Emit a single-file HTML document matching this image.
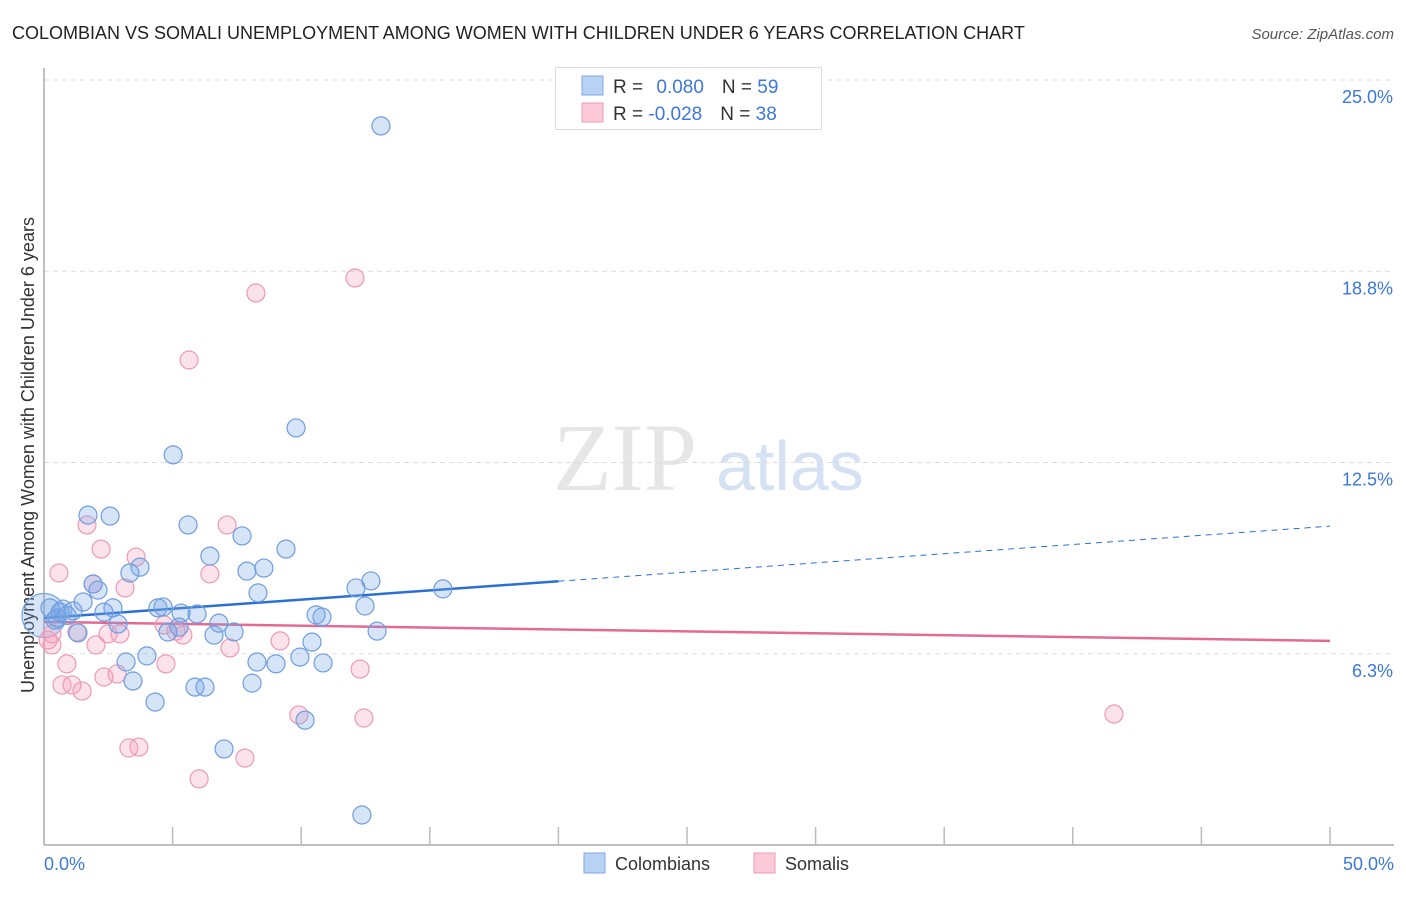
<!DOCTYPE html>
<html><head><meta charset="utf-8"><style>
body{margin:0;background:#fff;font-family:"Liberation Sans",sans-serif}
svg text{font-family:"Liberation Sans",sans-serif}
</style></head><body>
<svg id="chart" width="1406" height="892" viewBox="0 0 1406 892" xmlns="http://www.w3.org/2000/svg">
<text x="12" y="39" font-size="18" fill="#222">COLOMBIAN VS SOMALI UNEMPLOYMENT AMONG WOMEN WITH CHILDREN UNDER 6 YEARS CORRELATION CHART</text>
<text x="1394" y="39" font-size="15" fill="#555" font-style="italic" text-anchor="end">Source: ZipAtlas.com</text>
<g>
<text x="553" y="490" font-size="96" fill="#e6e6e6" font-family="Liberation Serif" style="font-family:'Liberation Serif',serif">ZIP</text>
<text x="716" y="490" font-size="70" fill="#d4e2f4">atlas</text>
</g>
<g id="grid"></g>
<g id="axes"></g>
<text transform="translate(34,455) rotate(-90)" font-size="18" fill="#333" text-anchor="middle">Unemployment Among Women with Children Under 6 years</text>
<g id="trends"></g>
<g id="points"></g>
<g>
<rect x="555.5" y="67.5" width="266" height="62" fill="#fff" stroke="#ddd"/>
<rect x="582" y="76" width="21" height="19" fill="#b8d2f4" stroke="#7ea8e4"/>
<rect x="582" y="103" width="21" height="19" fill="#fbc9d8" stroke="#ee9bb6"/>
<text x="613" y="93" font-size="19" fill="#333">R = <tspan fill="#3b78d8" dx="8">0.080</tspan><tspan fill="#333" dx="18">N = </tspan><tspan fill="#3b78d8">59</tspan></text>
<text x="613" y="120" font-size="19" fill="#333">R = <tspan fill="#3b78d8">-0.028</tspan><tspan fill="#333" dx="18">N = </tspan><tspan fill="#3b78d8">38</tspan></text>
</g>
<g>
<rect x="584" y="853" width="21" height="20" fill="#b8d2f4" stroke="#7ea8e4"/>
<text x="615" y="870" font-size="18" fill="#333">Colombians</text>
<rect x="754" y="853" width="21" height="20" fill="#fbc9d8" stroke="#ee9bb6"/>
<text x="785" y="870" font-size="18" fill="#333">Somalis</text>
</g>
</svg>
<script>
const yTicks=[6.25,12.5,18.75,25];
const yTickLabels=["6.3%","12.5%","18.8%","25.0%"];
const xTickLabels=["0.0%","50.0%"];
const colX=[13.10,9.80,5.02,1.71,2.57,5.60,7.70,9.41,6.45,3.73,3.34,7.89,8.55,12.71,12.13,15.51,1.91,2.10,8.32,1.52,0.74,1.13,2.68,2.33,4.43,4.63,5.33,5.95,10.58,10.81,12.48,2.88,5.25,6.80,4.82,1.32,6.61,7.39,12.95,10.42,4.00,3.19,8.28,9.02,9.95,10.85,3.46,8.09,5.87,6.26,4.32,10.15,7.00,12.36,0.23,0.51,0.43,0.62,0.9];
const colY=[23.50,13.63,12.75,10.78,10.75,10.46,10.10,9.67,9.44,9.08,8.89,8.95,9.05,8.63,8.40,8.37,8.53,8.33,8.24,7.94,7.71,7.65,7.75,7.61,7.75,7.78,7.58,7.55,7.52,7.45,7.81,7.22,7.12,7.25,6.96,6.93,6.86,6.96,6.99,6.63,6.18,5.98,5.98,5.92,6.14,5.95,5.36,5.29,5.16,5.16,4.67,4.08,3.14,0.98,7.75,7.42,7.35,7.61,7.5];
const somX=[12.09,8.24,5.64,1.67,7.12,2.22,3.58,0.58,6.45,1.91,3.15,4.67,5.13,5.40,7.23,9.18,2.49,2.02,2.95,0.31,0.31,0.89,4.74,12.29,2.84,2.33,0.70,1.09,1.48,9.91,12.44,41.60,3.30,3.69,7.81,6.03,1.28,0.16];
const somY=[18.53,18.04,15.85,10.46,10.46,9.67,9.41,8.89,8.86,8.53,8.40,7.19,6.99,6.86,6.44,6.67,6.90,6.54,6.90,6.54,6.90,5.92,5.92,5.75,5.59,5.49,5.23,5.23,5.03,4.25,4.15,4.28,3.17,3.20,2.84,2.16,6.96,6.70];
const colTrend=[7.42,10.42];
const somTrend=[7.29,6.67];
const X0=44,X1=1330,Y0=845,Y1=80,XMAX=50,YMAX=25;
const sx=v=>X0+v/XMAX*(X1-X0);
const sy=v=>Y0-v/YMAX*(Y0-Y1);
const NS="http://www.w3.org/2000/svg";
function mk(tag,attrs,parent){const e=document.createElementNS(NS,tag);for(const k in attrs)e.setAttribute(k,attrs[k]);parent.appendChild(e);return e;}
const grid=document.getElementById('grid'),axes=document.getElementById('axes'),pts=document.getElementById('points'),tr=document.getElementById('trends');
yTicks.forEach((t,i)=>{
 const l=mk('line',{x1:X0,x2:1394,y1:sy(t),y2:sy(t),stroke:'#ddd','stroke-dasharray':'5,4'},grid);
 
 
 const tx=mk('text',{x:1393,y:sy(t)+23,'font-size':18,fill:'#3b78d8','text-anchor':'end'},axes);
 tx.textContent=yTickLabels[i];
 
 
});
const ya=mk('line',{x1:X0,x2:X0,y1:68,y2:Y0,stroke:'#aaa','stroke-width':1.5},axes);


const xa=mk('line',{x1:X0,x2:1394,y1:Y0,y2:Y0,stroke:'#aaa','stroke-width':1.5},axes);


for(let v=5;v<=50;v+=5){
 const t=mk('line',{x1:sx(v),x2:sx(v),y1:Y0-18,y2:Y0,stroke:'#bbb','stroke-width':1.5},axes);
 
 
}
const xl0=mk('text',{x:44,y:870,'font-size':18,fill:'#3b78d8'},axes);xl0.textContent=xTickLabels[0];


const xl1=mk('text',{x:1394,y:870,'font-size':18,fill:'#3b78d8','text-anchor':'end'},axes);xl1.textContent=xTickLabels[1];


function dots(xs,ys,fill,stroke,name){
 xs.forEach((x,i)=>{
  const c=mk('circle',{cx:sx(x),cy:sy(ys[i]),r:9,fill:fill,stroke:stroke,'stroke-width':1.2},pts);
  
  
 });
}
const big=mk('circle',{cx:sx(0),cy:sy(7.5),r:22,fill:'rgba(120,165,230,0.3)',stroke:'#7ea8e4','stroke-width':1.2},pts);


dots(somX,somY,'rgba(245,160,190,0.3)','#ec9ab5','somali-point');
dots(colX,colY,'rgba(120,165,230,0.3)','#6e9de0','colombian-point');
const xSplit=20;
const cAt=v=>colTrend[0]+(colTrend[1]-colTrend[0])*v/XMAX;
const b1=mk('line',{x1:sx(0),y1:sy(colTrend[0]),x2:sx(xSplit),y2:sy(cAt(xSplit)),stroke:'#2a6fd6','stroke-width':2.5},tr);


const b2=mk('line',{x1:sx(xSplit),y1:sy(cAt(xSplit)),x2:sx(XMAX),y2:sy(colTrend[1]),stroke:'#2a6fd6','stroke-width':1,'stroke-dasharray':'6,5'},tr);


const p1=mk('line',{x1:sx(0),y1:sy(somTrend[0]),x2:sx(XMAX),y2:sy(somTrend[1]),stroke:'#e46a93','stroke-width':2.5},tr);


</script>
</body></html>
